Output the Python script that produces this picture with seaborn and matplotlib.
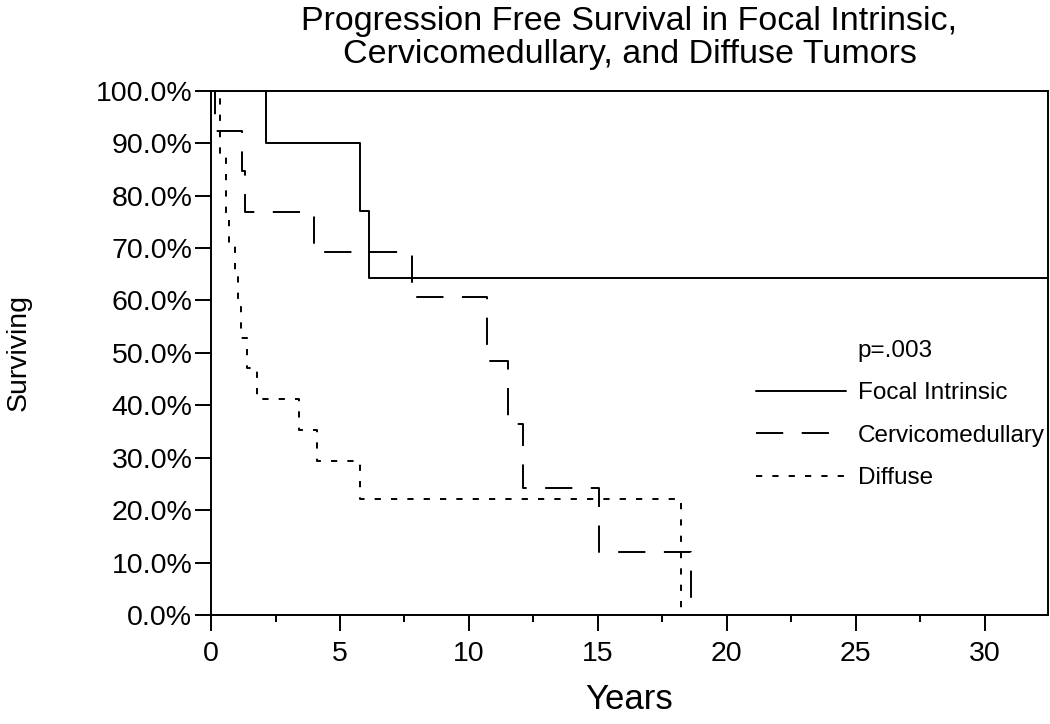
import matplotlib
matplotlib.use("Agg")
import matplotlib.pyplot as plt
from matplotlib.lines import Line2D
from matplotlib.ticker import MultipleLocator, FuncFormatter
import pandas as pd
import seaborn as sns

# Kaplan-Meier step points (years, % surviving)
focal_years = [0, 2.13, 5.78, 6.13, 32.4]
focal_surv = [100, 90.0, 77.1, 64.3, 64.3]

cervico_years = [0, 0.15, 1.2, 1.3, 4.0, 7.8, 10.7, 11.5, 12.1, 15.06, 18.6]
cervico_surv = [100, 92.3, 84.6, 76.9, 69.2, 60.6, 48.5, 36.4, 24.3, 12.1, 0]

diffuse_years = [0, 0.35, 0.58, 0.70, 0.93, 1.05, 1.16, 1.40, 1.79, 3.41, 4.11, 5.78, 18.24]
diffuse_surv = [100, 88.2, 76.5, 70.6, 64.7, 58.8, 52.9, 47.1, 41.2, 35.3, 29.4, 22.1, 0]

groups = ["Focal Intrinsic", "Cervicomedullary", "Diffuse"]
p_text = "p=.003"
title = "Progression Free Survival in Focal Intrinsic,\nCervicomedullary, and Diffuse Tumors"


def get_data():
    frames = []
    for name, yrs, surv in zip(groups,
                               [focal_years, cervico_years, diffuse_years],
                               [focal_surv, cervico_surv, diffuse_surv]):
        frames.append(pd.DataFrame({"Years": yrs, "Surviving": surv, "Group": name}))
    return pd.concat(frames, ignore_index=True)


def km_plot(df):
    sns.set_theme(style="ticks")
    plt.rcParams["font.family"] = ["Liberation Sans", "DejaVu Sans"]
    plt.rcParams["text.color"] = "black"

    fig = plt.figure(figsize=(10.5, 7.24), dpi=100)
    ax = fig.add_axes([0.201, 0.1506, 0.797, 0.7241])

    sns.lineplot(data=df, x="Years", y="Surviving", hue="Group", style="Group",
                 hue_order=groups, style_order=groups,
                 palette={g: "black" for g in groups},
                 dashes={"Focal Intrinsic": "", "Cervicomedullary": (14, 9.5), "Diffuse": (3.2, 5.2)},
                 drawstyle="steps-post", estimator=None, sort=False,
                 linewidth=1.4, legend=False, ax=ax)

    ax.set_xlim(0, 32.45)
    ax.set_ylim(0, 100)
    ax.xaxis.set_major_locator(MultipleLocator(5))
    ax.xaxis.set_minor_locator(MultipleLocator(2.5))
    ax.yaxis.set_major_locator(MultipleLocator(10))
    ax.yaxis.set_major_formatter(FuncFormatter(lambda v, pos: "%.1f%%" % v))

    for s in ax.spines.values():
        s.set_visible(True)
        s.set_linewidth(1.4)
        s.set_color("black")
    ax.tick_params(axis="both", which="major", direction="out", length=11.5, width=1.4,
                   color="black", labelsize=20.5, labelcolor="black")
    ax.tick_params(axis="x", which="major", pad=7)
    ax.tick_params(axis="y", which="major", pad=2)
    ax.tick_params(axis="x", which="minor", direction="out", length=5, width=1.4, color="black")
    ax.tick_params(axis="y", which="minor", left=False)

    ax.set_xlabel("Years", fontsize=25, color="black", labelpad=12)
    ax.set_ylabel("Surviving", fontsize=20.5, color="black", labelpad=46)
    ax.set_title(title, fontsize=24.5, linespacing=1.1, pad=20, color="black")

    handles = [Line2D([], [], color="none")] + ax.get_lines()[:3]
    labels = [p_text] + groups
    ax.legend(handles, labels, loc="upper left", bbox_to_anchor=(0.651, 0.525),
              frameon=False, fontsize=17.5, handlelength=3.7, handletextpad=0.5,
              labelspacing=0.84, borderpad=0, borderaxespad=0, labelcolor="black")

    fig.savefig("out.png", dpi=100, facecolor="white")


if __name__ == "__main__":
    df = get_data()
    km_plot(df)
